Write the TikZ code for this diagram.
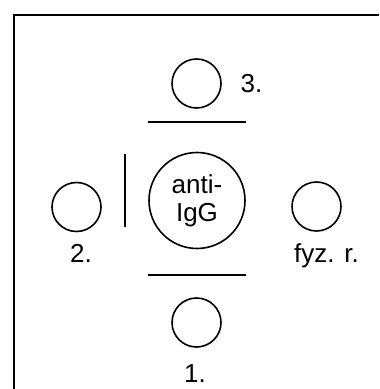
\documentclass[tikz,border=0pt]{standalone}
\usepackage{fontspec}
\setmainfont{Liberation Sans}
\usetikzlibrary{positioning}
\tikzset{
  well/.style={circle, draw=black, line width=0.8pt, minimum size=24.5pt, inner sep=0pt},
  bigwell/.style={circle, draw=black, line width=0.8pt, minimum size=48pt, inner sep=0pt,
    align=center, font=\fontsize{13}{14.5}\selectfont},
  lbl/.style={anchor=base, inner sep=0pt, font=\fontsize{13}{14.5}\selectfont},
  bar/.style={line width=0.8pt, color=black},
  frame/.style={line width=1pt, color=black}
}
\begin{document}
\begin{tikzpicture}[x=0.5pt, y=-0.5pt]
  \useasboundingbox (0,0) rectangle (379,389);
  % gel frame (cut off on the right and below)
  \draw[frame] (379,15) -- (13.5,15) -- (13.5,389);

  % wells
  \node[bigwell] (anti) at (197,200.5) {anti-\\[-0.5pt]IgG};
  \node[well] (w3) at (196.5,83.5) {};
  \node[well] (w1) at (196.5,322.5) {};
  \node[well] (w2) at (76.5,207) {};
  \node[well] (wf) at (316.5,206.5) {};

  % labels
  \node[lbl] (l3) at (251.5,93) {3.};
  \node[lbl] (l1) at (195,382) {1.};
  \node[lbl] (l2) at (81,262) {2.};
  \node[lbl] (lf) at (326.5,262) {fyz. r.};

  % barriers
  \draw[bar] (148,122) -- (246,122);
  \draw[bar] (148,275) -- (246,275);
  \draw[bar] (125,154) -- (125,227);
\end{tikzpicture}
\end{document}
